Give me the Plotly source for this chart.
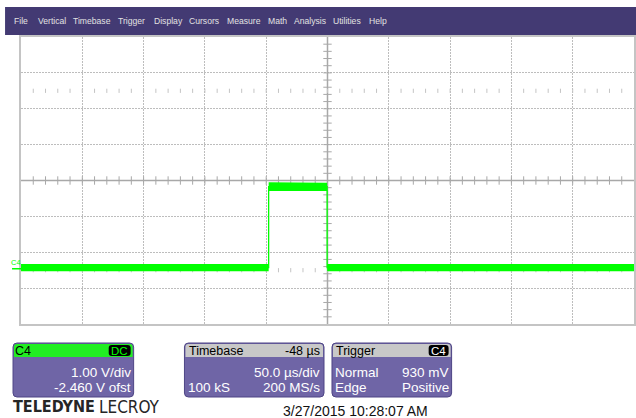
import plotly.graph_objects as go

# ---------------- data ----------------
time_us = [-202, 0, 0, 47.7, 47.7, 298]          # waveform break points (µs)
level_v = [0.03, 0.03, 2.29, 2.29, 0.03, 0.03]   # mean level (V)
env_hi_v = [0.13, 0.13, 2.41, 2.40, 0.13, 0.13]  # upper noise envelope (V)
env_lo_v = [-0.07, -0.07, 2.17, 2.17, -0.07, -0.07]  # lower noise envelope (V)

menu_labels = ["File", "Vertical", "Timebase", "Trigger", "Display", "Cursors",
               "Measure", "Math", "Analysis", "Utilities", "Help"]

ch_name = "C4"
ch_coupling = "DC"
ch_scale = "1.00 V/div"
ch_offset = "-2.460 V ofst"
tb_title = "Timebase"
tb_delay = "-48 µs"
tb_scale = "50.0 µs/div"
tb_samples = "100 kS"
tb_rate = "200 MS/s"
trig_title = "Trigger"
trig_src = "C4"
trig_mode = "Normal"
trig_level = "930 mV"
trig_type = "Edge"
trig_slope = "Positive"
timestamp = "3/27/2015 10:28:07 AM"

volts_per_div = 1.0
offset_v = -2.46
time_per_div = 50.0
delay_us = -48.0

# ---------------- layout helpers ----------------
FIG_W, FIG_H = 636, 418
ML, MR, MT, MB = 21, 0, 37, 94
PW = FIG_W - ML - MR
PH = FIG_H - MT - MB


def X(px):
    return (px - ML) / PW


def Y(py):
    return (FIG_H - MB - py) / PH


def rrect(x0, y0, x1, y1, r, top_only=False):
    rb = 0 if top_only else r
    p = (f"M {X(x0 + r)},{Y(y0)} L {X(x1 - r)},{Y(y0)} "
         f"Q {X(x1)},{Y(y0)} {X(x1)},{Y(y0 + r)} "
         f"L {X(x1)},{Y(y1 - rb)} ")
    if rb:
        p += f"Q {X(x1)},{Y(y1)} {X(x1 - rb)},{Y(y1)} "
    p += f"L {X(x0 + rb)},{Y(y1)} "
    if rb:
        p += f"Q {X(x0)},{Y(y1)} {X(x0)},{Y(y1 - rb)} "
    p += f"L {X(x0)},{Y(y0 + r)} Q {X(x0)},{Y(y0)} {X(x0 + r)},{Y(y0)} Z"
    return p


FONT = "Liberation Sans, Arial, sans-serif"
GREEN = "#00ff00"
PANEL = "#6f65a6"
PANEL_EDGE = "#4e4585"
MENU = "#433a73"
TICK = "#a8a8a8"
DOT = "#c4c4c4"

xc = -delay_us
yc = -offset_v
xr = [xc - 5 * time_per_div, xc + 5 * time_per_div]
yr = [yc - 4 * volts_per_div, yc + 4 * volts_per_div]

fig = go.Figure()

# graticule minor ticks on centre lines and dot rows
minor_x = [xr[0] + i * time_per_div / 5 for i in range(1, 50)]
minor_y = [yr[0] + i * volts_per_div / 5 for i in range(1, 40)]
fig.add_trace(go.Scatter(x=minor_x, y=[yc] * len(minor_x), mode="markers",
                         marker=dict(symbol="line-ns-open", size=6, color=TICK,
                                     line=dict(color=TICK, width=1)),
                         hoverinfo="skip", showlegend=False))
fig.add_trace(go.Scatter(x=[xc] * len(minor_y), y=minor_y, mode="markers",
                         marker=dict(symbol="line-ew-open", size=6, color=TICK,
                                     line=dict(color=TICK, width=1)),
                         hoverinfo="skip", showlegend=False))
for yd in (yc + 2.5 * volts_per_div, yc - 2.5 * volts_per_div):
    fig.add_trace(go.Scatter(x=minor_x, y=[yd] * len(minor_x), mode="markers",
                             marker=dict(symbol="line-ns-open", size=3, color=DOT,
                                         line=dict(color=DOT, width=1)),
                             hoverinfo="skip", showlegend=False))

# waveform noise band
fig.add_trace(go.Scatter(x=time_us, y=env_lo_v, mode="lines",
                         line=dict(width=0, color=GREEN),
                         hoverinfo="skip", showlegend=False))
fig.add_trace(go.Scatter(x=time_us, y=env_hi_v, mode="lines", fill="tonexty",
                         fillcolor=GREEN, line=dict(width=0, color=GREEN),
                         hoverinfo="skip", showlegend=False))
fig.add_trace(go.Scatter(x=time_us, y=level_v, mode="lines",
                         line=dict(width=1.3, color=GREEN),
                         hoverinfo="skip", showlegend=False))

# trigger position marker
fig.add_trace(go.Scatter(x=[0], y=[yr[0] - 0.11], mode="markers", cliponaxis=False,
                         marker=dict(symbol="triangle-up", size=6, color=GREEN),
                         hoverinfo="skip", showlegend=False))

shapes = []
# centre solid lines
shapes.append(dict(type="line", xref="x", yref="y", x0=xr[0], x1=xr[1], y0=yc, y1=yc,
                   line=dict(color=TICK, width=1.5), layer="between"))
shapes.append(dict(type="line", xref="x", yref="y", x0=xc, x1=xc, y0=yr[0], y1=yr[1],
                   line=dict(color=TICK, width=1.5), layer="between"))
# ground marker
shapes.append(dict(type="line", xref="paper", yref="y", x0=X(12), x1=X(21), y0=0, y1=0,
                   line=dict(color=GREEN, width=1.5)))
# menu bar
shapes.append(dict(type="rect", xref="paper", yref="paper", x0=X(5), x1=X(640),
                   y0=Y(35), y1=Y(7), fillcolor=MENU, line=dict(width=0)))

# panels
panels = [(13, 134), (185, 325), (333, 453)]
for (a, b) in panels:
    shapes.append(dict(type="path", xref="paper", yref="paper",
                       path=rrect(a, 343, b, 397, 4), fillcolor=PANEL,
                       line=dict(color=PANEL_EDGE, width=1)))
# headers
shapes.append(dict(type="path", xref="paper", yref="paper",
                   path=rrect(14, 344, 133, 357, 3, top_only=True),
                   fillcolor="#22ee22", line=dict(width=0)))
shapes.append(dict(type="path", xref="paper", yref="paper",
                   path=rrect(186, 344, 324, 357, 3, top_only=True),
                   fillcolor="#c8c8c8", line=dict(width=0)))
shapes.append(dict(type="path", xref="paper", yref="paper",
                   path=rrect(334, 344, 452, 357, 3, top_only=True),
                   fillcolor="#c8c8c8", line=dict(width=0)))
# badges
shapes.append(dict(type="path", xref="paper", yref="paper",
                   path=rrect(109, 345, 131, 356, 3), fillcolor="#000000",
                   line=dict(width=0)))
shapes.append(dict(type="path", xref="paper", yref="paper",
                   path=rrect(430, 345, 450, 356, 3), fillcolor="#000000",
                   line=dict(width=0)))

ann = []


def txt(s, px, py, anchor="left", size=13, color="#ffffff", family=FONT, yref="paper"):
    ann.append(dict(text=s, x=X(px), y=Y(py) if yref == "paper" else py,
                    xref="paper", yref=yref, xanchor=anchor, yanchor="middle",
                    showarrow=False, borderpad=0,
                    font=dict(size=size, color=color, family=family)))


menu_x = [13, 37, 72, 117, 153, 189, 227, 268, 294, 333, 369]
for lab, mx in zip(menu_labels, menu_x):
    txt(lab, mx, 21, size=8.6, color="#e2e2e2")

# ground label
ann.append(dict(text=ch_name, x=X(10), y=0, xref="paper", yref="y", xanchor="left",
                yanchor="middle", yshift=6, showarrow=False, borderpad=0,
                font=dict(size=7.5, color=GREEN, family=FONT)))

# C4 panel
txt(ch_name, 14, 350.5, size=12.5, color="#000000")
txt(ch_coupling, 120, 350.5, anchor="center", size=11.5, color=GREEN)
txt(ch_scale, 132, 372, anchor="right", size=13.5)
txt(ch_offset, 132, 387, anchor="right", size=13.5)

# Timebase panel
txt(tb_title, 189, 350.5, size=12.5, color="#000000")
txt(tb_delay, 322, 350.5, anchor="right", size=12.5, color="#000000")
txt(tb_scale, 322, 372, anchor="right", size=13.5)
txt(tb_samples, 188, 387, size=13.5)
txt(tb_rate, 322, 387, anchor="right", size=13.5)

# Trigger panel
txt(trig_title, 336, 350.5, size=12.5, color="#000000")
txt(trig_src, 440, 350.5, anchor="center", size=11.5, color="#ffffff")
txt(trig_mode, 335, 372, size=13.5)
txt(trig_level, 451, 372, anchor="right", size=13.5)
txt(trig_type, 335, 387, size=13.5)
txt(trig_slope, 451, 387, anchor="right", size=13.5)

# logo and timestamp
LOGO_FONT = "Liberation Sans Narrow, DejaVu Sans Condensed, Liberation Sans, Arial"
txt("<b>TELEDYNE</b>", 12, 406.5, size=16, color="#262626", family=LOGO_FONT)
txt("LECROY", 161, 406.5, anchor="right", size=17, color="#262626", family=LOGO_FONT)
txt(timestamp, 357, 411, anchor="center", size=14, color="#111111")

fig.update_layout(
    width=FIG_W, height=FIG_H,
    margin=dict(l=ML, r=MR, t=MT, b=MB, pad=0),
    paper_bgcolor="#ffffff", plot_bgcolor="#ffffff",
    shapes=shapes, annotations=ann, showlegend=False,
    xaxis=dict(range=xr, tick0=xr[0], dtick=time_per_div, showgrid=True,
               gridcolor="#bdbdbd", griddash="2px,1px", gridwidth=1,
               showticklabels=False, ticks="", zeroline=False,
               showline=True, linecolor="#c4c4c4", linewidth=2, mirror=True,
               fixedrange=True),
    yaxis=dict(range=yr, tick0=yr[0], dtick=volts_per_div, showgrid=True,
               gridcolor="#bdbdbd", griddash="2px,1px", gridwidth=1,
               showticklabels=False, ticks="", zeroline=False,
               showline=True, linecolor="#c4c4c4", linewidth=2, mirror=True,
               fixedrange=True),
)

fig.write_html("out.html", config={"displayModeBar": False},
               post_script="document.body.style.margin='0';"
                           "document.body.style.overflow='hidden';")
